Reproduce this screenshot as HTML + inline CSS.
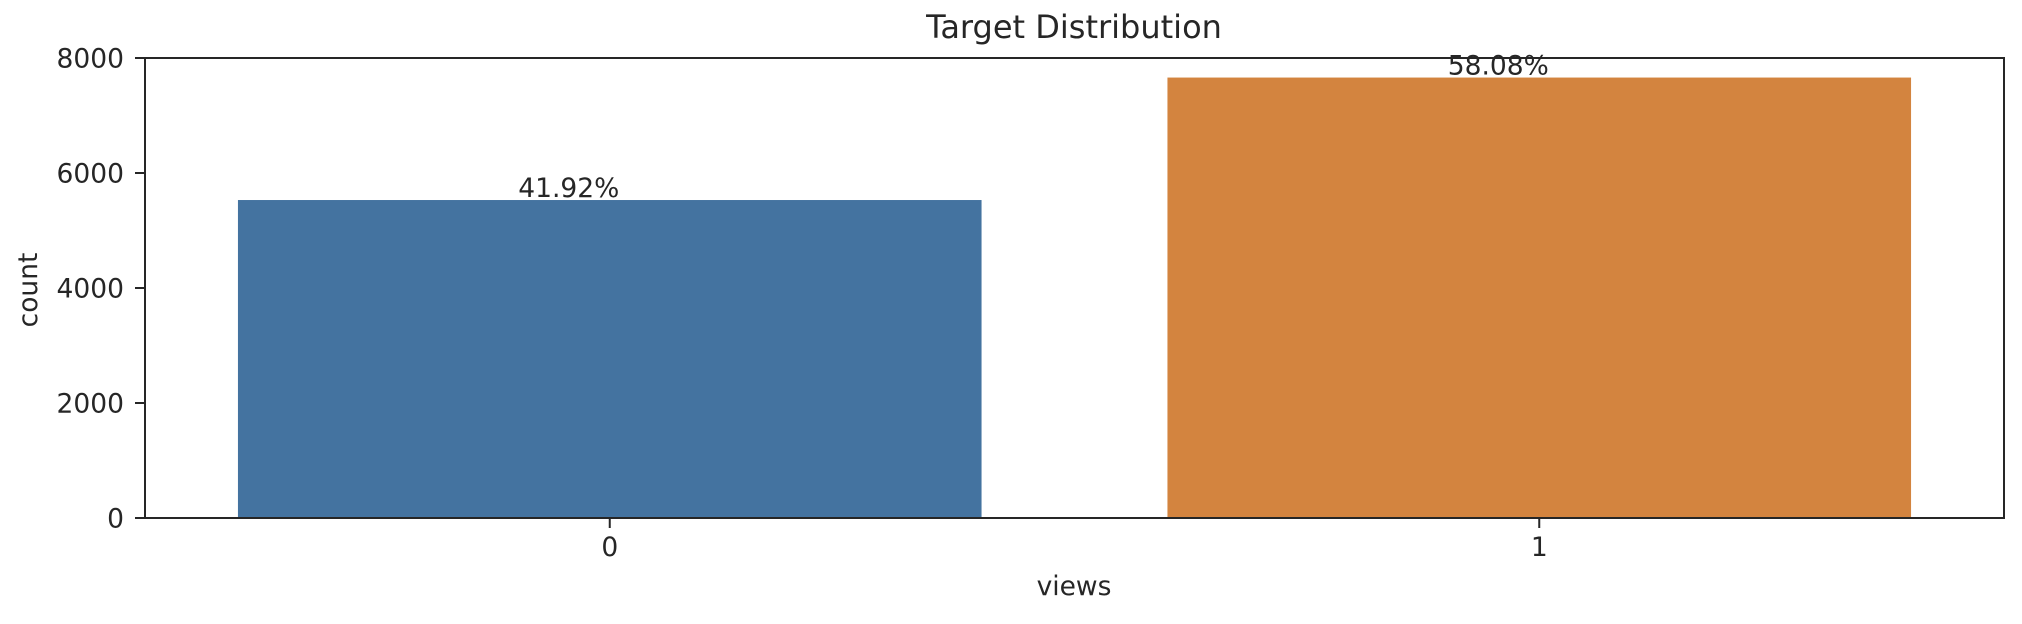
<!DOCTYPE html>
<html><head><meta charset="utf-8"><style>
html,body{margin:0;padding:0;background:#fff;}
svg{display:block;font-family:"DejaVu Sans","Liberation Sans",sans-serif;}
</style></head><body>
<svg id="chart" width="2022" height="624" viewBox="0 0 2022 624" xmlns="http://www.w3.org/2000/svg">
<text x="1074" y="38" font-size="32" text-anchor="middle" fill="#262626">Target Distribution</text>
<g id="plot"></g>
<text x="1074" y="595" font-size="26.5" text-anchor="middle" fill="#262626">views</text>
<text x="0" y="0" font-size="26.5" text-anchor="middle" fill="#262626" transform="translate(37,290) rotate(-90)">count</text>
</svg>
<script>
const categories = ["0", "1"];
const counts = [5530, 7660];
const percentLabels = ["41.92%", "58.08%"];
const yTicks = [0, 2000, 4000, 6000, 8000];
const colors = ["#4473a0", "#d3843f"];

const L = 145, R = 2004, T = 58, B = 518;
const yMax = 8000;
function xScale(i){ return L + (i + 0.5) * (R - L) / categories.length; }
function yScale(v){ return B - v / yMax * (B - T); }
const bandW = (R - L) / categories.length;
const NS = "http://www.w3.org/2000/svg";
const g = document.getElementById('plot');
function mk(tag, attrs){ const e = document.createElementNS(NS, tag); for (const k in attrs) e.setAttribute(k, attrs[k]); g.appendChild(e); return e; }

categories.forEach((c, i) => {
  const cx = xScale(i), w = bandW * 0.8, top = yScale(counts[i]);
  const r = mk('rect', {x: cx - w/2, y: top, width: w, height: B - top, fill: colors[i]});
  
  
  const t = mk('text', {x: cx - 41, y: top - 3, 'font-size': 26.5, 'text-anchor': 'middle', fill: '#262626'});
  t.textContent = percentLabels[i];
  
  
  const tk = mk('line', {x1: cx, x2: cx, y1: B, y2: B + 10, stroke: '#262626', 'stroke-width': 2});
  
  
  const tl = mk('text', {x: cx, y: B + 38, 'font-size': 26.5, 'text-anchor': 'middle', fill: '#262626'});
  tl.textContent = c;
  
  
});

yTicks.forEach(v => {
  const y = yScale(v);
  const tk = mk('line', {x1: L - 10, x2: L, y1: y, y2: y, stroke: '#262626', 'stroke-width': 2});
  
  
  const tl = mk('text', {x: L - 21, y: y + 9.5, 'font-size': 26.5, 'text-anchor': 'end', fill: '#262626'});
  tl.textContent = String(v);
  
  
});

const frame = mk('rect', {x: L, y: T, width: R - L, height: B - T, fill: 'none', stroke: '#262626', 'stroke-width': 2});


</script>
</body></html>
